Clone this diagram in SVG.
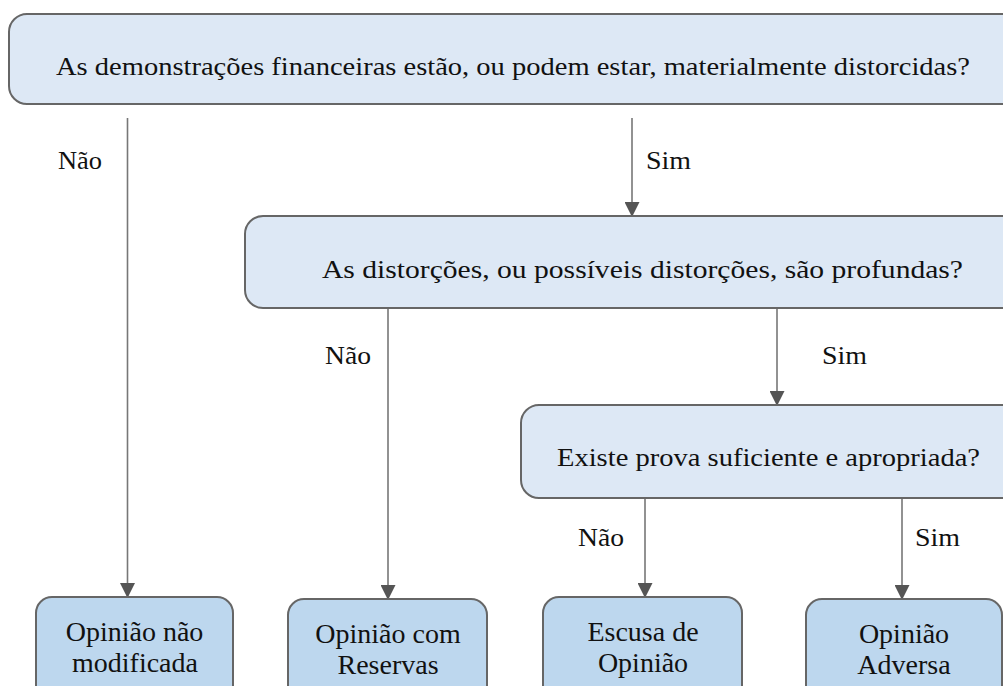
<svg xmlns="http://www.w3.org/2000/svg" width="1003" height="686" viewBox="0 0 1003 686" font-family="Liberation Serif, Times New Roman, serif">
<defs>
<style>
.q{fill:#dde8f5;stroke:#666;stroke-width:2}
.r{fill:#bdd7ee;stroke:#666;stroke-width:2}
.t{font-family:'Liberation Serif',serif;font-size:25px;fill:#111}
.b{font-family:'Liberation Serif',serif;font-size:28px;fill:#111;text-anchor:middle}
.ln{stroke:#777;stroke-width:1.6;fill:none}
</style>
<marker id="ah" markerWidth="15" markerHeight="15" refX="14" refY="7.5" orient="auto" markerUnits="userSpaceOnUse">
<path d="M0,0 L15,7.5 L0,15 Z" fill="#555"/>
</marker>
</defs>
<rect width="1003" height="686" fill="#fff"/>
<g id="connectors">
<line class="ln" x1="127.5" y1="118" x2="127.5" y2="597" marker-end="url(#ah)"/>
<line class="ln" x1="632" y1="118" x2="632" y2="216" marker-end="url(#ah)"/>
<line class="ln" x1="388" y1="308" x2="388" y2="599" marker-end="url(#ah)"/>
<line class="ln" x1="777" y1="308" x2="777" y2="405" marker-end="url(#ah)"/>
<line class="ln" x1="645" y1="498" x2="645" y2="597" marker-end="url(#ah)"/>
<line class="ln" x1="902" y1="498" x2="902" y2="599" marker-end="url(#ah)"/>
<text class="t" x="58" y="169" textLength="44" lengthAdjust="spacingAndGlyphs">Não</text>
<text class="t" x="646" y="169" textLength="45" lengthAdjust="spacingAndGlyphs">Sim</text>
<text class="t" x="325" y="364" textLength="46" lengthAdjust="spacingAndGlyphs">Não</text>
<text class="t" x="822" y="364" textLength="45" lengthAdjust="spacingAndGlyphs">Sim</text>
<text class="t" x="578" y="546" textLength="46" lengthAdjust="spacingAndGlyphs">Não</text>
<text class="t" x="915" y="546" textLength="45" lengthAdjust="spacingAndGlyphs">Sim</text>
</g>
<g id="q1">
<rect class="q" x="9" y="14" width="1030" height="90" rx="18"/>
<text class="t" x="56" y="75" textLength="914" lengthAdjust="spacingAndGlyphs">As demonstrações financeiras estão, ou podem estar, materialmente distorcidas?</text>
</g>
<g id="q2">
<rect class="q" x="245" y="216" width="790" height="92" rx="18"/>
<text class="t" x="322" y="278" textLength="641" lengthAdjust="spacingAndGlyphs">As distorções, ou possíveis distorções, são profundas?</text>
</g>
<g id="q3">
<rect class="q" x="521" y="405" width="510" height="93" rx="18"/>
<text class="t" x="557" y="466" textLength="423" lengthAdjust="spacingAndGlyphs">Existe prova suficiente e apropriada?</text>
</g>
<g id="r1">
<rect class="r" x="36" y="597" width="197" height="110" rx="16"/>
<text class="b" x="134.5" y="641">Opinião não</text>
<text class="b" x="135" y="672">modificada</text>
</g>
<g id="r2">
<rect class="r" x="288" y="599" width="199" height="110" rx="16"/>
<text class="b" x="388" y="643">Opinião com</text>
<text class="b" x="388" y="674">Reservas</text>
</g>
<g id="r3">
<rect class="r" x="543" y="597" width="199" height="110" rx="16"/>
<text class="b" x="643" y="641">Escusa de</text>
<text class="b" x="643" y="672">Opinião</text>
</g>
<g id="r4">
<rect class="r" x="806" y="599" width="196" height="110" rx="16"/>
<text class="b" x="904" y="643">Opinião</text>
<text class="b" x="904" y="674">Adversa</text>
</g>
</svg>
